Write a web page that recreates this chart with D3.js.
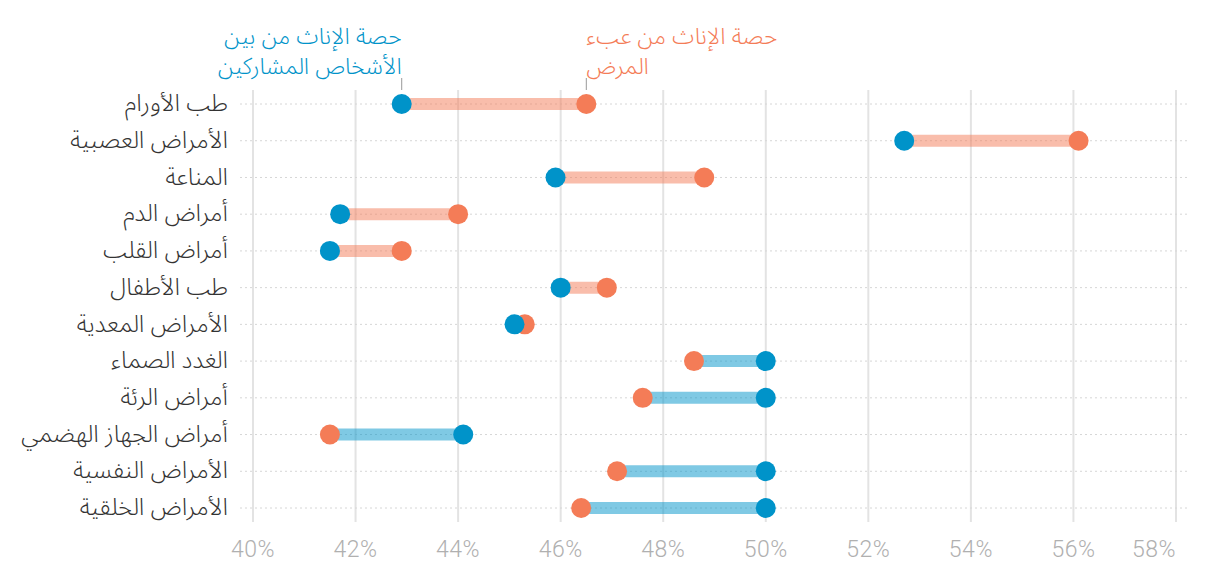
<!DOCTYPE html>
<html>
<head>
<meta charset="utf-8">
<script src="https://cdn.jsdelivr.net/npm/d3@7"></script>
<style>
	body { margin: 0; background: #fff; }
	svg { display: block; }
	.cat { font-family: "Noto Sans Arabic", "Noto Sans", "DejaVu Sans", sans-serif; font-weight: 300; font-size: 24px; fill: #333; }
	.tick_lbl { font-family: Roboto, "Liberation Sans", sans-serif; font-weight: 300; font-size: 23px; letter-spacing: 0.5px; fill: #b0b0b0; }
	.note { font-family: "Noto Sans Arabic", "Noto Sans", "DejaVu Sans", sans-serif; font-weight: 300; font-size: 23px; }
</style>
</head>
<body>
<svg id="chart" width="1220" height="572"></svg>
<script>
// categories top to bottom
var categories = ["طب الأورام", "الأمراض العصبية", "المناعة", "أمراض الدم", "أمراض القلب", "طب الأطفال",
	"الأمراض المعدية", "الغدد الصماء", "أمراض الرئة", "أمراض الجهاز الهضمي", "الأمراض النفسية", "الأمراض الخلقية"];
// share of women among trial participants (%)
var participants = [42.9, 52.7, 45.9, 41.7, 41.5, 46.0, 45.1, 50.0, 50.0, 44.1, 50.0, 50.0];
// share of women in disease burden (%)
var burden = [46.5, 56.1, 48.8, 44.0, 42.9, 46.9, 45.3, 48.6, 47.6, 41.5, 47.1, 46.4];
var tick_values = [40, 42, 44, 46, 48, 50, 52, 54, 56, 58];

var blue = "#0093c9", orange = "#f47c57";

var svg = d3.select("#chart");

var x = d3.scaleLinear().domain([40, 58]).range([253, 1176]);
var y = d3.scalePoint().domain(categories).range([104, 508]);

// vertical grid
svg.selectAll("line.grid")
	.data(tick_values)
	.enter().append("line")
	.attr("class", "grid")
	.attr("x1", function(d) { return x(d); })
	.attr("x2", function(d) { return x(d); })
	.attr("y1", 90)
	.attr("y2", 522)
	.attr("stroke", "#e3e3e3")
	.attr("stroke-width", 2);

// x axis labels (last one kept inside the frame)
svg.selectAll("text.tick_lbl")
	.data(tick_values)
	.enter().append("text")
	.attr("class", "tick_lbl")
	.attr("x", function(d) { return x(d); })
	.attr("y", 557)
	.attr("text-anchor", function(d, i) { return i == tick_values.length - 1 ? "end" : "middle"; })
	.text(function(d) { return d + "%"; });

// dotted row lines
svg.selectAll("line.row")
	.data(categories)
	.enter().append("line")
	.attr("class", "row")
	.attr("x1", 240)
	.attr("x2", 1190)
	.attr("y1", function(d) { return y(d); })
	.attr("y2", function(d) { return y(d); })
	.attr("stroke", "#d6d6d6")
	.attr("stroke-width", 1)
	.attr("stroke-dasharray", "2,3");

// category labels
svg.selectAll("text.cat")
	.data(categories)
	.enter().append("text")
	.attr("class", "cat")
	.attr("x", 228)
	.attr("y", function(d) { return y(d); })
	.attr("dy", ".3em")
	.attr("text-anchor", "end")
	.text(function(d) { return d; });

// connecting bars, coloured by the larger of the two values
svg.selectAll("line.bar")
	.data(categories)
	.enter().append("line")
	.attr("class", "bar")
	.attr("x1", function(d, i) { return x(participants[i]); })
	.attr("x2", function(d, i) { return x(burden[i]); })
	.attr("y1", function(d) { return y(d); })
	.attr("y2", function(d) { return y(d); })
	.attr("stroke", function(d, i) { return burden[i] > participants[i] ? orange : blue; })
	.attr("stroke-opacity", 0.5)
	.attr("stroke-width", 12);

// dots
svg.selectAll("circle.burden")
	.data(categories)
	.enter().append("circle")
	.attr("class", "burden")
	.attr("cx", function(d, i) { return x(burden[i]); })
	.attr("cy", function(d) { return y(d); })
	.attr("r", 10)
	.attr("fill", orange);

svg.selectAll("circle.part")
	.data(categories)
	.enter().append("circle")
	.attr("class", "part")
	.attr("cx", function(d, i) { return x(participants[i]); })
	.attr("cy", function(d) { return y(d); })
	.attr("r", 10)
	.attr("fill", blue);

// annotations above first row
var note_blue = ["حصة الإناث من بين", "الأشخاص المشاركين"];
var note_orange = ["حصة الإناث من عبء", "المرض"];

svg.selectAll("text.note_blue")
	.data(note_blue)
	.enter().append("text")
	.attr("class", "note")
	.attr("x", x(participants[0]))
	.attr("y", function(d, i) { return 44 + i * 30; })
	.attr("text-anchor", "end")
	.attr("fill", blue)
	.text(function(d) { return d; });

svg.selectAll("text.note_orange")
	.data(note_orange)
	.enter().append("text")
	.attr("class", "note")
	.attr("x", x(burden[0]))
	.attr("y", function(d, i) { return 44 + i * 30; })
	.attr("text-anchor", "start")
	.attr("fill", orange)
	.text(function(d) { return d; });

[participants[0], burden[0]].forEach(function(v) {
	svg.append("line")
		.attr("x1", x(v)).attr("x2", x(v))
		.attr("y1", 78).attr("y2", 90)
		.attr("stroke", "#999")
		.attr("stroke-width", 1);
});
</script>
</body>
</html>
